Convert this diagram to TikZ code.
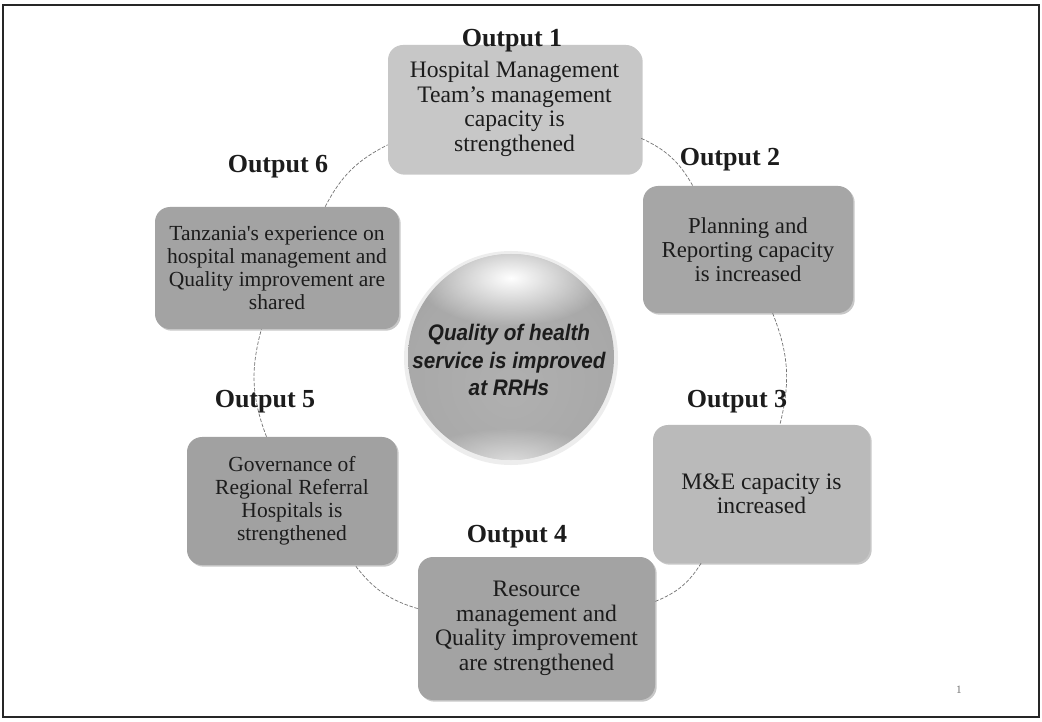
\documentclass[tikz,border=0pt]{standalone}
\usepackage{fontspec}
\setmainfont{Liberation Serif}
\newfontfamily\rawserif[Ligatures=TeXOff]{Liberation Serif}
\newfontfamily\spherefont[FakeStretch=0.92]{Liberation Sans}
\usetikzlibrary{shadows,fadings}

% one unit of the drawing grid
\newdimen\pxu \pxu=0.025cm

\definecolor{inkc}{HTML}{1C1C1C}
\definecolor{framec}{HTML}{262626}

% body of the central sphere
\pgfdeclareradialshading{spheregray}{\pgfpoint{0bp}{-8bp}}{%
  color(0bp)=(black!31); color(25bp)=(black!34); color(45bp)=(black!42); color(60bp)=(black!44)}
\tikzfading[name=softspot, inner color=transparent!0, outer color=transparent!100]

\tikzset{
  outbox/.style={rounded corners=15\pxu, inner sep=0pt, align=center, text=inkc,
    drop shadow={shadow xshift=1.2pt, shadow yshift=-1.2pt, opacity=0.22, fill=black}},
  bodytext/.style={font=\fontsize{16.8}{17.4}\selectfont},
  smalltext/.style={font=\fontsize{15.3}{16.4}\selectfont},
  outlbl/.style={font=\bfseries\fontsize{18.5}{20}\selectfont, text=inkc, anchor=base, inner sep=0pt},
  link/.style={draw=black!55, line width=0.5pt, dash pattern=on 2.5pt off 1.2pt},
}

\begin{document}
\begin{tikzpicture}[x=\pxu, y=\pxu]
\useasboundingbox (0,0) rectangle (1042,-722);
\fill[white] (0,0) rectangle (1042,-722);

% slide frame
\draw[framec, line width=2.4\pxu] (3,-5) rectangle (1039,-717);

% central sphere
\fill[black!7] (511,-358) circle (107);
\shade[shading=spheregray] (511,-357) circle (103);
\begin{scope}
  \clip (511,-357) circle (103);
  \fill[white, path fading=softspot] (511,-278) ellipse (95 and 48);
  \fill[white, path fading=softspot, opacity=0.6] (511,-462) ellipse (95 and 34);
\end{scope}
\node[font=\spherefont\bfseries\itshape\fontsize{16}{19.6}\selectfont, align=center, text=inkc]
  (goal) at (509,-360) {Quality of health\\service is improved\\at RRHs};

% output boxes
\node[outbox, bodytext, fill=black!22, minimum width=253\pxu, minimum height=128\pxu]
  (b1) at (514.5,-109) {Hospital Management\\Team’s management\\capacity is\\strengthened};
\node[outbox, font=\fontsize{16.2}{17.2}\selectfont, fill=black!35, minimum width=210\pxu, minimum height=127\pxu]
  (b2) at (748,-249.5) {Planning and\\Reporting capacity\\is increased};
\node[outbox, bodytext, fill=black!27, minimum width=217\pxu, minimum height=138\pxu]
  (b3) at (761.5,-494) {M\&E capacity is\\increased};
\node[outbox, bodytext, fill=black!36, minimum width=237\pxu, minimum height=143\pxu]
  (b4) at (536.5,-628.5) {Resource\\management and\\Quality improvement\\are strengthened};
\node[outbox, smalltext, fill=black!37, minimum width=210\pxu, minimum height=128\pxu]
  (b5) at (292,-501) {Governance of\\Regional Referral\\Hospitals is\\strengthened};
\node[outbox, fill=black!36, minimum width=244\pxu, minimum height=122\pxu,
  font={\rawserif\fontsize{15.3}{16.4}\selectfont}]
  (b6) at (277,-268) {Tanzania's experience on\\hospital management and\\Quality improvement are\\shared};

% cycle connectors
\draw[link] (b1) to[bend left=18] (b2);
\draw[link] (b2) to[bend left=18] (b3);
\draw[link] (b3) to[bend left=18] (b4);
\draw[link] (b4) to[bend left=18] (b5);
\draw[link] (b5) to[bend left=18] (b6);
\draw[link] (b6) to[bend left=18] (b1);

% output titles
\node[outlbl] (o1) at (512,-47) {Output 1};
\node[outlbl] (o2) at (730,-166) {Output 2};
\node[outlbl] (o3) at (737,-407) {Output 3};
\node[outlbl] (o4) at (517,-542) {Output 4};
\node[outlbl] (o5) at (265,-407) {Output 5};
\node[outlbl] (o6) at (278,-173) {Output 6};

% slide number
\node[font=\fontsize{8}{9}\selectfont, text=black!55] (pg) at (959,-690) {1};
\end{tikzpicture}
\end{document}
